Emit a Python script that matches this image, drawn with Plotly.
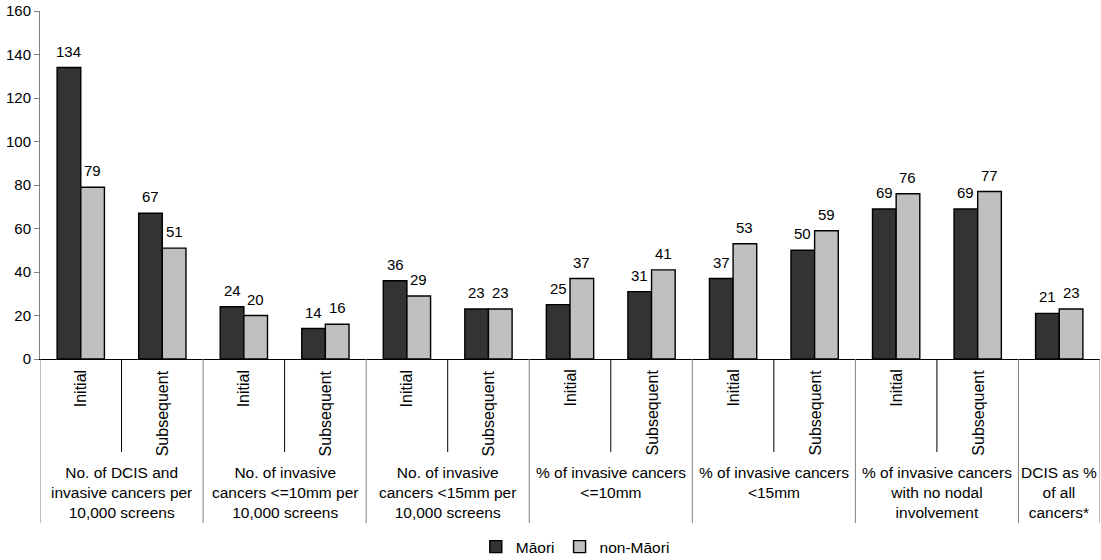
import plotly.graph_objects as go

groups = [
    "No. of DCIS and<br>invasive cancers per<br>10,000 screens",
    "No. of invasive<br>cancers <=10mm per<br>10,000 screens",
    "No. of invasive<br>cancers <15mm per<br>10,000 screens",
    "% of invasive cancers<br><=10mm",
    "% of invasive cancers<br><15mm",
    "% of invasive cancers<br>with no nodal<br>involvement",
    "DCIS as %<br>of all<br>cancers*",
]
# sub-category labels per slot ("" = none)
sub_labels = ["Initial", "Subsequent"] * 6 + [""]
slot_group = [0, 0, 1, 1, 2, 2, 3, 3, 4, 4, 5, 5, 6]

maori = [134, 67, 24, 14, 36, 23, 25, 31, 37, 50, 69, 69, 21]
non_maori = [79, 51, 20, 16, 29, 23, 37, 41, 53, 59, 76, 77, 23]

series_names = ["Māori", "non-Māori"]
colors = ["#333333", "#c0c0c0"]

FONT = "Liberation Sans, Arial, sans-serif"
n = len(maori)
xs = list(range(n))

fig = go.Figure()
for name, vals, col in zip(series_names, [maori, non_maori], colors):
    fig.add_trace(go.Bar(
        x=xs, y=vals, name=name,
        marker=dict(color=col, line=dict(color="black", width=1.4)),
    ))

bargap = 0.42
bw = (1 - bargap) / 2
annotations = []
for k, vals in enumerate([maori, non_maori]):
    off = (k - 0.5) * bw
    for i, v in enumerate(vals):
        annotations.append(dict(
            x=i + off, y=v, xref="x", yref="y", text=str(v), showarrow=False,
            yanchor="bottom", xanchor="center", yshift=6,
            font=dict(family=FONT, size=15, color="black"),
        ))

# sub labels, rotated
for i, lab in enumerate(sub_labels):
    if lab:
        annotations.append(dict(
            x=i, y=0, xref="x", yref="paper", text=lab, showarrow=False,
            textangle=-90, yanchor="top", xanchor="center", yshift=-9,
            font=dict(family=FONT, size=16, color="black"),
        ))

plot_h = 348.0
def py(pix):
    return -(pix - 359) / plot_h

# group labels
for g, lab in enumerate(groups):
    idx = [i for i in range(n) if slot_group[i] == g]
    cx = (idx[0] + idx[-1]) / 2
    annotations.append(dict(
        x=cx, y=py(462), xref="x", yref="paper", text=lab, showarrow=False,
        yanchor="top", xanchor="center",
        font=dict(family=FONT, size=15.5, color="black"),
    ))

shapes = []
# separators
for i in range(n + 1):
    xb = i - 0.5
    left_g = slot_group[i - 1] if i > 0 else None
    right_g = slot_group[i] if i < n else None
    if left_g != right_g:
        shapes.append(dict(type="line", xref="x", yref="paper", x0=xb, x1=xb,
                           y0=0, y1=py(523), line=dict(color="#808080", width=1)))
    else:
        shapes.append(dict(type="line", xref="x", yref="paper", x0=xb, x1=xb,
                           y0=0, y1=py(452), line=dict(color="black", width=1)))

fig.update_layout(
    width=1101, height=560,
    margin=dict(l=40, r=1, t=11, b=201, autoexpand=False),
    paper_bgcolor="white", plot_bgcolor="white",
    barmode="group", bargap=bargap, bargroupgap=0,
    font=dict(family=FONT, size=15, color="black"),
    xaxis=dict(range=[-0.5, n - 0.5], showticklabels=False, showgrid=False,
               zeroline=False, showline=True, linecolor="black", linewidth=1,
               ticks=""),
    yaxis=dict(range=[0, 160], dtick=20, showgrid=False, zeroline=False,
               showline=True, linecolor="#808080", linewidth=1,
               ticks="outside", ticklen=5, tickcolor="#808080",
               tickfont=dict(family=FONT, size=15, color="black")),
    legend=dict(orientation="h", x=0.505, xanchor="center", y=py(530),
                yanchor="top", font=dict(family=FONT, size=15.5),
                itemwidth=30, tracegroupgap=0),
    showlegend=True,
    annotations=annotations,
    shapes=shapes,
)

fig.write_html("out.html")
